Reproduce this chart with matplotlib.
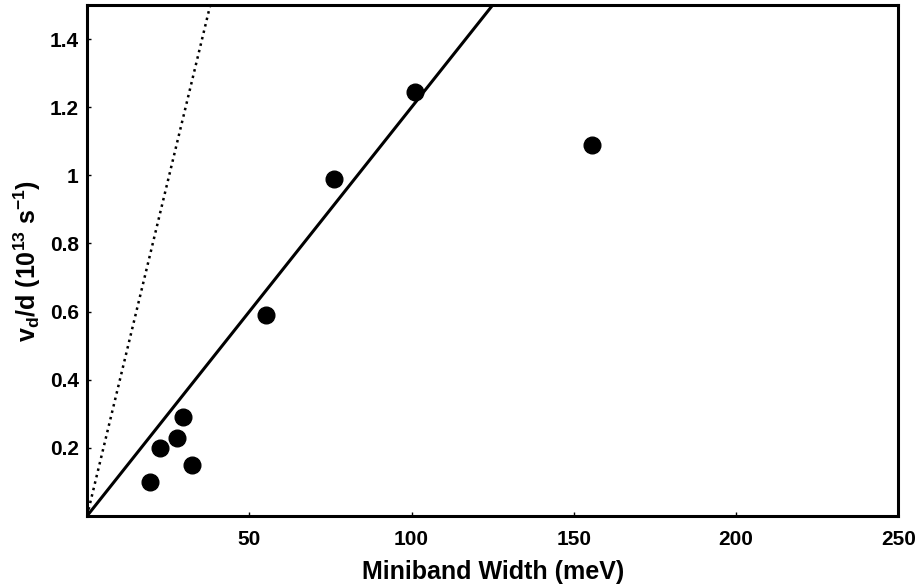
import matplotlib
matplotlib.use("Agg")
import matplotlib.pyplot as plt
import numpy as np

plt.rcParams['font.family'] = 'Liberation Sans'
plt.rcParams['font.weight'] = 'bold'
plt.rcParams['mathtext.fontset'] = 'custom'
plt.rcParams['mathtext.rm'] = 'Liberation Sans:bold'
plt.rcParams['mathtext.it'] = 'Liberation Sans:bold'
plt.rcParams['mathtext.bf'] = 'Liberation Sans:bold'

# measured points (miniband width in meV, vd/d in 1e13 s^-1)
width = [19.5, 22.6, 27.8, 29.7, 32.4, 55.0, 76.0, 101.0, 155.5]
vdd = [0.10, 0.20, 0.23, 0.29, 0.15, 0.59, 0.99, 1.245, 1.09]

# model lines through origin
fit_x = [0, 130]
fit_y = [0, 1.56]
ideal_x = [0, 40]
ideal_y = [0, 1.58]

xticks = [50, 100, 150, 200, 250]
yticks = [0.2, 0.4, 0.6, 0.8, 1.0, 1.2, 1.4]
ylabels = ["0.2", "0.4", "0.6", "0.8", "1", "1.2", "1.4"]

fig = plt.figure(figsize=(9.2, 5.86), dpi=100)
ax = fig.add_axes([0.0946, 0.1195, 0.882, 0.872])

ax.plot(fit_x, fit_y, '-', color="black", lw=2.2)
ax.plot(ideal_x, ideal_y, ':', color="black", lw=1.8)
ax.plot(width, vdd, 'o', color="black", markersize=12)

ax.set_xlim(0, 250)
ax.set_ylim(0, 1.5)
ax.set_xticks(xticks)
ax.set_yticks(yticks)
ax.set_yticklabels(ylabels)
ax.tick_params(direction='in', length=3, width=1, labelsize=15)
ax.tick_params(axis='x', pad=10)
ax.tick_params(axis='y', pad=6)
for s in ax.spines.values():
    s.set_linewidth(2.2)

ax.set_xlabel("Miniband Width (meV)", fontsize=18, fontweight='bold', labelpad=8)
ax.set_ylabel(r"v$_{\rm d}$/d (10$^{13}$ s$^{-1}$)", fontsize=18, fontweight='bold', labelpad=5)

fig.savefig("out.png", dpi=100)
